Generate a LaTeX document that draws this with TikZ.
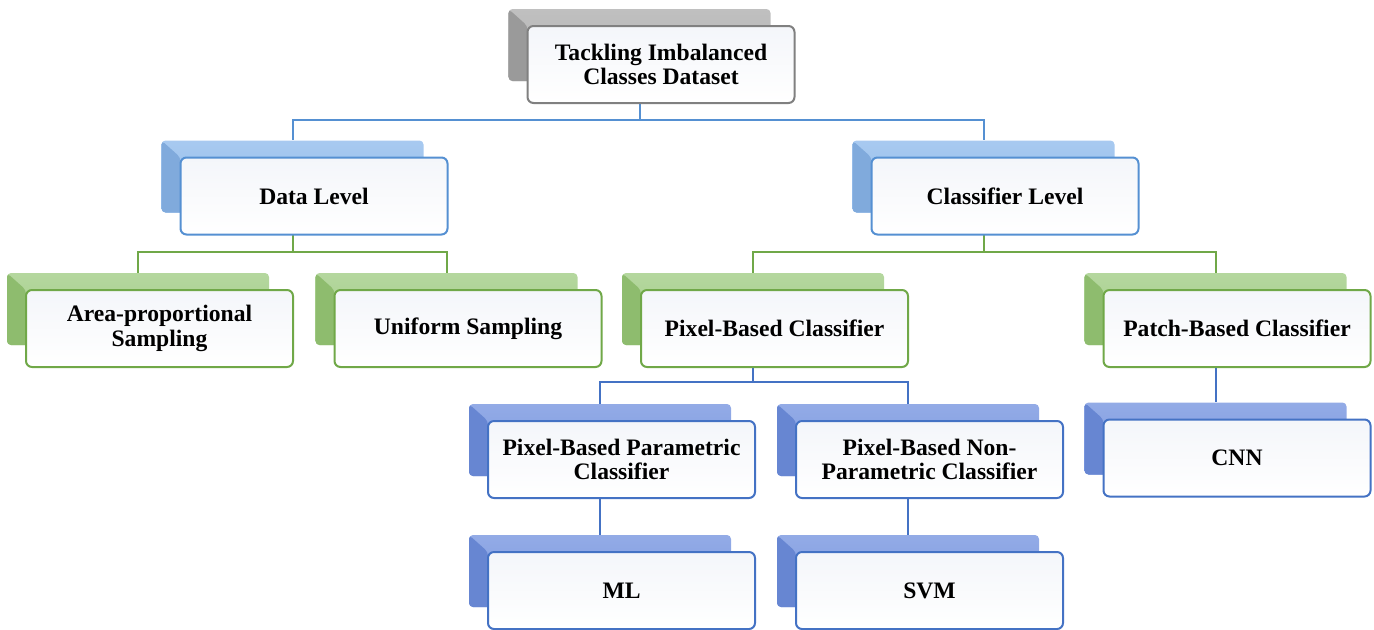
\documentclass[tikz,border=0pt]{standalone}
\usepackage{fontspec}
\setmainfont{Liberation Serif}
\usetikzlibrary{calc}
\pgfdeclarelayer{bg}
\pgfdeclarelayer{mid}
\pgfsetlayers{bg,mid,main}
\definecolor{grayback}{HTML}{B0B0B0}
\definecolor{graydark}{HTML}{9A9A9A}
\definecolor{grayline}{HTML}{808080}
\definecolor{lblueback}{HTML}{92BCEC}
\definecolor{lbluedark}{HTML}{80AADC}
\definecolor{lblueline}{HTML}{5590D2}
\definecolor{greenback}{HTML}{A2CD86}
\definecolor{greendark}{HTML}{8EBC6E}
\definecolor{greenline}{HTML}{70A848}
\definecolor{dblueback}{HTML}{7896E0}
\definecolor{dbluedark}{HTML}{6786D2}
\definecolor{dblueline}{HTML}{4472C4}
\definecolor{frontfill}{HTML}{F4F6FA}
\tikzset{
  backbox/.style n args={2}{draw=none, rounded corners=2pt, inner sep=0pt,
    minimum width=131pt, minimum height=36pt,
    top color=#1!80!white, bottom color=#1,
    path picture={\fill[#2] (path picture bounding box.north west) -- ++(9.5pt,-8.5pt) -- ++(0,-40pt) -- ++(-20pt,0) -- cycle;}},
  frontbox/.style={draw=#1, line width=1pt, rounded corners=3pt,
    top color=frontfill, bottom color=white, inner sep=2pt,
    minimum width=133.5pt, minimum height=38.5pt, align=center,
    font=\fontsize{11.8}{12.3}\selectfont\bfseries},
  conn/.style={draw=#1, line width=1pt},
}
\newcommand\mkpair[6]{%
  \begin{pgfonlayer}{mid}
    \node[backbox={#4back}{#4dark}] (#1B) at (#2-21.5,#3-19.5) {};
  \end{pgfonlayer}
  \node[frontbox=#5] (#1) at (#2,#3) {#6};
}
\begin{document}
\begin{tikzpicture}[x=0.5pt,y=-0.5pt]
\useasboundingbox (0,0) rectangle (1374,629);
\mkpair{top}{661}{64.5}{gray}{grayline}{Tackling Imbalanced\\Classes Dataset}
\mkpair{data}{314}{196}{lblue}{lblueline}{Data Level}
\mkpair{clf}{1005}{196}{lblue}{lblueline}{Classifier Level}
\mkpair{area}{159.5}{328.5}{green}{greenline}{Area-proportional\\Sampling}
\mkpair{unif}{468}{328.5}{green}{greenline}{Uniform Sampling}
\mkpair{pix}{774.5}{328.5}{green}{greenline}{Pixel-Based Classifier}
\mkpair{patch}{1237}{328.5}{green}{greenline}{Patch-Based Classifier}
\mkpair{par}{621.5}{459.5}{dblue}{dblueline}{Pixel-Based Parametric\\Classifier}
\mkpair{npar}{929.5}{459.5}{dblue}{dblueline}{Pixel-Based Non-\\Parametric Classifier}
\mkpair{cnn}{1237}{458}{dblue}{dblueline}{CNN}
\mkpair{ml}{621.5}{590.5}{dblue}{dblueline}{ML}
\mkpair{svm}{929.5}{590.5}{dblue}{dblueline}{SVM}
\coordinate (bus1) at (0,120);
\coordinate (bus2) at (0,252);
\coordinate (bus3) at (0,382);
\begin{pgfonlayer}{bg}
  \draw[conn=lblueline] (topB.center) -- (topB.center |- bus1) -| (dataB.north);
  \draw[conn=lblueline] (topB.center |- bus1) -| (clfB.north);
  \draw[conn=greenline] (dataB.center) -- (dataB.center |- bus2) -| (areaB.north);
  \draw[conn=greenline] (dataB.center |- bus2) -| (unifB.north);
  \draw[conn=greenline] (clfB.center) -- (clfB.center |- bus2) -| (pixB.north);
  \draw[conn=greenline] (clfB.center |- bus2) -| (patchB.north);
  \draw[conn=dblueline] (pixB.center) -- (pixB.center |- bus3) -| (parB.north);
  \draw[conn=dblueline] (pixB.center |- bus3) -| (nparB.north);
  \draw[conn=dblueline] (patchB.center) -- (cnnB.north);
  \draw[conn=dblueline] (parB.center) -- (mlB.north);
  \draw[conn=dblueline] (nparB.center) -- (svmB.north);
\end{pgfonlayer}
\end{tikzpicture}
\end{document}
